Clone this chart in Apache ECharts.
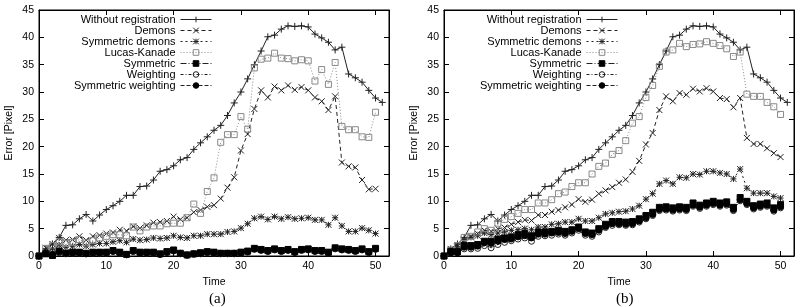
<!DOCTYPE html>
<html>
<head>
<meta charset="utf-8">
<script src="https://cdn.jsdelivr.net/npm/echarts@6/dist/echarts.min.js"></script>
<style>
  html, body { margin: 0; padding: 0; background: #fff; }
  #chart { width: 800px; height: 307px; }
</style>
</head>
<body>
<div id="chart"></div>
<script>
// time steps (x)
const time = [0, 1, 2, 3, 4, 5, 6, 7, 8, 9, 10, 11, 12, 13, 14, 15, 16, 17, 18, 19, 20,
  21, 22, 23, 24, 25, 26, 27, 28, 29, 30, 31, 32, 33, 34, 35, 36, 37, 38, 39, 40,
  41, 42, 43, 44, 45, 46, 47, 48, 49, 50, 51]

const names = ['Without registration', 'Demons', 'Symmetric demons', 'Lucas-Kanade',
  'Symmetric', 'Weighting', 'Symmetric weighting']

// same baseline in both panels
const withoutReg = [0, 1.3, 2.2, 3.4, 5.6, 5.7, 6.8, 7.6, 6.4, 7.5, 8.5, 9.2, 10.0, 11.1, 11.1,
  12.7, 12.8, 13.9, 15.5, 15.8, 16.5, 17.6, 18.0, 19.5, 20.7, 21.8, 23.0, 23.9, 25.7, 28.0,
  30.0, 32.4, 35.0, 37.5, 40.1, 40.4, 41.5, 42.1, 42.0, 42.1, 41.9, 40.6, 39.9, 39.1, 37.7,
  38.2, 33.3, 32.6, 31.8, 30.3, 28.9, 28.1]

// panel (a)
const demonsA = [0, 1.5, 2.2, 3.3, 2.9, 3.0, 3.6, 2.9, 3.6, 3.8, 4.1, 4.3, 4.8, 4.6, 5.4, 5.1,
  5.6, 6.1, 6.2, 6.4, 7.2, 6.7, 7.0, 8.0, 8.4, 9.0, 9.3, 10.5, 12.5, 14.4, 19.3, 22.3, 26.9,
  30.3, 29.0, 31.0, 30.3, 31.2, 30.4, 30.9, 30.3, 29.0, 28.3, 26.7, 29.2, 17.1, 16.4, 16.2,
  13.9, 12.2, 12.3]
const symDemonsA = [0, 0.9, 1.3, 2.0, 1.6, 1.8, 2.1, 1.8, 2.1, 2.3, 2.3, 2.6, 2.8, 2.5, 3.1, 2.9,
  3.0, 3.3, 3.2, 3.3, 3.7, 3.4, 3.3, 3.7, 3.7, 4.0, 4.0, 4.0, 4.4, 4.5, 5.1, 5.9, 6.9, 7.2,
  6.7, 7.2, 6.8, 7.1, 6.8, 6.9, 7.0, 6.6, 6.6, 5.7, 7.0, 5.5, 4.5, 4.5, 5.1, 4.7, 4.1]
const lucasA = [0, 1.4, 1.9, 2.6, 2.3, 2.5, 3.0, 2.4, 2.8, 3.3, 3.6, 3.9, 3.9, 3.7, 5.3, 4.6,
  5.3, 5.5, 5.5, 5.9, 6.0, 6.0, 7.0, 9.5, 7.8, 11.8, 14.3, 20.8, 22.2, 22.2, 25.5, 23.2, 34.4,
  36.0, 36.2, 37.1, 36.2, 36.1, 35.7, 35.9, 35.7, 32.0, 34.1, 31.4, 35.4, 23.7, 23.1, 23.1,
  21.8, 21.7, 26.3]
const symA = [0, 0.4, 0.1, 0.9, 0.5, 0.7, 0.7, 0.5, 0.7, 0.7, 0.7, 1.0, 0.7, 0.3, 1.0, 0.7,
  0.7, 0.7, 0.4, 0.8, 1.1, 0.5, 0.2, 0.4, 0.6, 0.8, 0.7, 0.5, 0.5, 0.5, 0.7, 0.9, 1.4, 1.2,
  1.0, 1.3, 1.0, 1.2, 0.8, 1.2, 1.3, 1.0, 1.0, 0.7, 1.5, 1.3, 1.2, 1.0, 1.3, 0.8, 1.4]
const weightA = [0, 0.6, 0.8, 0.6, 0.4, 0.5, 0.5, 0.4, 0.5, 0.5, 0.5, 0.8, 0.5, 0.2, 0.8, 0.5,
  0.5, 0.5, 0.3, 0.6, 0.9, 0.4, 0.1, 0.3, 0.4, 0.6, 0.5, 0.4, 0.4, 0.4, 0.5, 0.7, 1.2, 1.0,
  0.8, 1.1, 0.8, 1.0, 0.6, 1.0, 1.1, 0.8, 0.8, 0.5, 1.3, 1.1, 1.0, 0.8, 1.1, 0.6, 1.2]
const symWeightA = [0, 0.5, 0.3, 0.8, 0.5, 0.6, 0.6, 0.4, 0.6, 0.6, 0.6, 0.9, 0.6, 0.3, 0.9, 0.6,
  0.6, 0.6, 0.3, 0.7, 1.0, 0.5, 0.2, 0.4, 0.5, 0.7, 0.6, 0.5, 0.5, 0.5, 0.6, 0.8, 1.3, 1.1,
  0.9, 1.2, 0.9, 1.1, 0.7, 1.1, 1.2, 0.9, 0.9, 0.6, 1.4, 1.2, 1.1, 0.9, 1.2, 0.7, 1.3]

// panel (b)
const demonsB = [0, 1.3, 2.0, 2.8, 3.6, 4.1, 4.7, 4.5, 5.0, 5.2, 5.8, 6.2, 6.6, 6.5, 7.5, 7.5,
  8.1, 8.4, 8.9, 9.4, 10.4, 9.9, 10.3, 11.4, 12.0, 12.6, 13.4, 14.0, 15.4, 17.4, 20.4, 22.5,
  26.7, 29.2, 28.3, 29.8, 29.5, 30.6, 30.1, 30.7, 30.1, 28.9, 28.7, 27.2, 28.9, 21.6, 20.5,
  20.5, 19.7, 18.8, 18.1]
const symDemonsB = [0, 1.1, 1.7, 3.0, 3.4, 3.7, 4.2, 3.9, 4.2, 4.4, 4.7, 4.8, 5.0, 4.8, 5.3, 5.3,
  5.8, 5.9, 6.2, 6.2, 6.8, 6.4, 6.4, 7.0, 7.7, 7.9, 8.1, 8.2, 8.6, 9.2, 10.4, 11.4, 13.2, 13.8,
  13.2, 14.4, 14.3, 15.0, 14.9, 15.5, 15.5, 15.2, 15.0, 14.1, 15.9, 12.4, 11.5, 11.5, 11.5,
  10.9, 10.6]
const lucasB = [0, 1.1, 1.9, 3.4, 3.6, 4.4, 5.0, 4.7, 6.0, 6.7, 7.2, 7.8, 8.5, 8.5, 9.7, 9.7,
  10.3, 11.4, 11.7, 12.7, 13.4, 13.4, 15.0, 16.4, 17.0, 18.6, 19.3, 21.1, 24.3, 25.5, 29.0,
  31.2, 34.7, 37.3, 37.7, 38.9, 38.3, 38.7, 38.8, 39.2, 38.9, 38.5, 37.9, 36.5, 37.3, 29.6,
  29.2, 29.2, 28.1, 27.3, 25.9]
const symB = [0, 0.8, 0.8, 1.9, 1.9, 2.1, 2.7, 2.7, 3.1, 3.3, 3.5, 3.9, 4.1, 3.7, 4.4, 4.4,
  4.5, 4.7, 4.5, 4.8, 5.3, 4.4, 4.2, 5.0, 5.8, 6.3, 6.3, 6.2, 6.3, 6.8, 7.4, 8.0, 8.9, 9.0,
  8.8, 9.0, 8.9, 9.7, 9.3, 9.7, 10.0, 9.7, 9.9, 8.9, 10.7, 10.0, 9.2, 9.5, 9.7, 8.8, 9.4]
const weightB = [0, 0.5, 0.6, 1.3, 1.3, 1.4, 1.9, 1.5, 2.1, 2.5, 2.8, 3.1, 3.3, 2.7, 3.6, 3.7,
  3.8, 4.0, 3.8, 4.2, 4.7, 3.8, 3.6, 4.4, 5.2, 5.6, 5.7, 5.6, 5.7, 6.2, 6.8, 7.4, 8.3, 8.4,
  8.2, 8.4, 8.3, 9.1, 8.7, 9.1, 9.4, 9.1, 9.3, 8.3, 10.1, 9.4, 8.6, 8.9, 9.1, 8.2, 8.8]
const symWeightB = [0, 0.6, 0.6, 1.6, 1.6, 1.8, 2.4, 2.3, 2.7, 3.0, 3.1, 3.5, 3.7, 3.3, 4.0, 4.0,
  4.2, 4.3, 4.1, 4.5, 5.0, 4.1, 3.9, 4.7, 5.4, 5.9, 5.9, 5.8, 5.9, 6.4, 7.0, 7.6, 8.5, 8.6,
  8.4, 8.6, 8.5, 9.3, 8.9, 9.3, 9.6, 9.3, 9.5, 8.5, 10.3, 9.6, 8.8, 9.1, 9.3, 8.4, 9.0]

const xTicks = { min: 0, max: 52, interval: 10 }
const yTicks = { min: 0, max: 45, interval: 5 }

const font = 'Liberation Sans, Arial, sans-serif'
const ink = '#222'

// gnuplot-like point types
const styles = [
  { symbol: 'path://M0,5L10,5M5,0L5,10', size: 7, dash: 'solid', line: ink, fill: ink },
  { symbol: 'path://M0,0L10,10M10,0L0,10', size: 6, dash: [4, 3], line: ink, fill: ink },
  { symbol: 'path://M0,0L10,10M10,0L0,10M5,0L5,10M0,5L10,5', size: 6, dash: [2, 3], line: ink, fill: ink },
  { symbol: 'rect', size: 6, dash: [1, 2], line: '#888', fill: 'rgba(255,255,255,0)', border: '#888' },
  { symbol: 'rect', size: 6, dash: [6, 2, 1, 2], line: ink, fill: '#000', border: '#000' },
  { symbol: 'circle', size: 6, dash: [3, 2, 1, 2], line: ink, fill: 'rgba(255,255,255,0)', border: ink },
  { symbol: 'circle', size: 6, dash: [4, 2], line: ink, fill: '#000', border: '#000' }
]

function pairs(vals) {
  return vals.map((v, i) => [time[i], v])
}

function makeSeries(i, vals, axisIdx) {
  const s = styles[i]
  return {
    name: names[i],
    type: 'line',
    xAxisIndex: axisIdx,
    yAxisIndex: axisIdx,
    data: pairs(vals),
    symbol: s.symbol,
    symbolSize: s.size,
    showAllSymbol: true,
    lineStyle: { color: s.line, width: 1, type: s.dash },
    itemStyle: { color: s.fill, borderColor: s.border || ink, borderWidth: 1 },
    emphasis: { disabled: true }
  }
}

function xAxes(grid) {
  const base = {
    gridIndex: grid,
    type: 'value',
    min: xTicks.min,
    max: xTicks.max,
    interval: xTicks.interval,
    splitLine: { show: false },
    axisLine: { onZero: false, lineStyle: { color: '#000' } },
    axisTick: { inside: true, length: 5, lineStyle: { color: '#000' } }
  }
  return [
    Object.assign({}, base, {
      position: 'bottom',
      name: 'Time',
      nameLocation: 'middle',
      nameGap: 19,
      nameTextStyle: { fontFamily: font, fontSize: 10.5, color: '#000' },
      axisLabel: { showMaxLabel: false, margin: 5, fontFamily: font, fontSize: 10.5, color: '#000' }
    }),
    Object.assign({}, base, { position: 'top', axisLabel: { show: false } })
  ]
}

function yAxes(grid) {
  const base = {
    gridIndex: grid,
    type: 'value',
    min: yTicks.min,
    max: yTicks.max,
    interval: yTicks.interval,
    splitLine: { show: false },
    axisLine: { onZero: false, lineStyle: { color: '#000' } },
    axisTick: { inside: true, length: 5, lineStyle: { color: '#000' } }
  }
  return [
    Object.assign({}, base, {
      position: 'left',
      name: 'Error [Pixel]',
      nameLocation: 'middle',
      nameGap: 24,
      nameTextStyle: { fontFamily: font, fontSize: 10.5, color: '#000' },
      axisLabel: { margin: 5, fontFamily: font, fontSize: 10.5, color: '#000' }
    }),
    Object.assign({}, base, { position: 'right', axisLabel: { show: false } })
  ]
}

function legendAt(right) {
  return {
    data: names,
    orient: 'vertical',
    align: 'right',
    right: right,
    top: 14,
    padding: 0,
    itemWidth: 31,
    itemHeight: 7,
    itemGap: 0,
    selectedMode: false,
    lineStyle: { width: 1 },
    itemStyle: { borderWidth: 1 },
    textStyle: { fontFamily: font, fontSize: 11, color: '#000', lineHeight: 10.3 }
  }
}

const seriesA = [withoutReg, demonsA, symDemonsA, lucasA, symA, weightA, symWeightA]
const seriesB = [withoutReg, demonsB, symDemonsB, lucasB, symB, weightB, symWeightB]

const chart = echarts.init(document.getElementById('chart'))
chart.setOption({
  animation: false,
  backgroundColor: '#fff',
  title: [
    { text: '(a)', left: 204, top: 287, textStyle: { fontFamily: 'Liberation Serif, serif', fontSize: 15, fontWeight: 'normal', color: '#000' } },
    { text: '(b)', left: 611, top: 287, textStyle: { fontFamily: 'Liberation Serif, serif', fontSize: 15, fontWeight: 'normal', color: '#000' } }
  ],
  legend: [legendAt(588), legendAt(182)],
  grid: [
    { left: 39, top: 10, width: 350, height: 246, show: true, borderColor: '#000', borderWidth: 1 },
    { left: 444, top: 10, width: 350, height: 246, show: true, borderColor: '#000', borderWidth: 1 }
  ],
  xAxis: xAxes(0).concat(xAxes(1)),
  yAxis: yAxes(0).concat(yAxes(1)),
  series: seriesA.map((v, i) => makeSeries(i, v, 0))
    .concat(seriesB.map((v, i) => makeSeries(i, v, 2)))
})
</script>
</body>
</html>
